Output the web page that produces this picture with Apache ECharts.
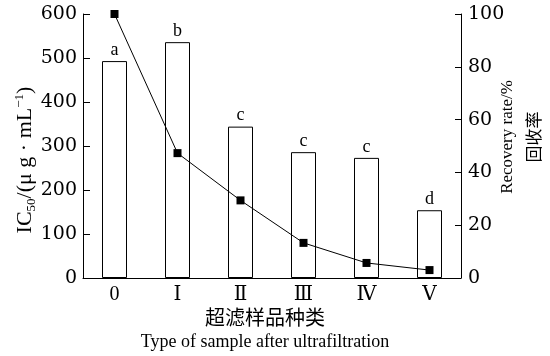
<!DOCTYPE html>
<html><head><meta charset="utf-8">
<script src="https://cdn.jsdelivr.net/npm/echarts@6/dist/echarts.min.js"></script>
<style>html,body{margin:0;padding:0;background:#fff}#c{width:550px;height:356px}</style>
</head><body><div id="c"></div>
<script>
const categories = ['0', 'Ⅰ', 'Ⅱ', 'Ⅲ', 'Ⅳ', 'Ⅴ'];
const ic50 = [493, 536, 344, 286, 273, 154];
const recovery = [100, 47.3, 29.4, 13.3, 5.7, 3.0];
const letters = ['a', 'b', 'c', 'c', 'c', 'd'];
const leftTicks = [0, 100, 200, 300, 400, 500, 600];
const rightTicks = [0, 20, 40, 60, 80, 100];

const serif = '"Liberation Serif", "DejaVu Serif", serif';
const numFont = '"DejaVu Serif", "Liberation Serif", serif';
const chart = echarts.init(document.getElementById('c'), null, {renderer: 'canvas'});
chart.setOption({
  animation: false,
  backgroundColor: '#fff',
  grid: {left: 83, right: 89, top: 14, bottom: 78, containLabel: false},
  xAxis: {
    type: 'category', data: categories, boundaryGap: true,
    axisLine: {lineStyle: {color: '#000', width: 1}},
    axisTick: {inside: true, length: 4, lineStyle: {color: '#000'}},
    axisLabel: {color: '#000', fontFamily: serif, fontSize: 20, margin: 7}
  },
  yAxis: [{
    type: 'value', min: leftTicks[0], max: leftTicks[leftTicks.length - 1], interval: 100,
    axisLine: {show: true, lineStyle: {color: '#000', width: 1}},
    axisTick: {show: true, inside: true, length: 7, lineStyle: {color: '#000'}},
    axisLabel: {color: '#000', fontFamily: numFont, fontSize: 19, margin: 6},
    splitLine: {show: false}
  }, {
    type: 'value', min: rightTicks[0], max: rightTicks[rightTicks.length - 1], interval: 20,
    position: 'right',
    axisLine: {show: true, lineStyle: {color: '#000', width: 1}},
    axisTick: {show: true, inside: true, length: 6, lineStyle: {color: '#000'}},
    axisLabel: {color: '#000', fontFamily: numFont, fontSize: 19, margin: 7},
    splitLine: {show: false}
  }],
  series: [{
    type: 'bar', yAxisIndex: 0, data: ic50, barWidth: 25,
    itemStyle: {color: '#fff', borderColor: '#000', borderWidth: 1},
    label: {
      show: true, position: 'top', distance: 2, color: '#000',
      fontFamily: serif, fontSize: 18,
      formatter: p => letters[p.dataIndex]
    }
  }, {
    type: 'line', yAxisIndex: 1, data: recovery,
    symbol: 'rect', symbolSize: 8,
    lineStyle: {color: '#000', width: 1},
    itemStyle: {color: '#000'}
  }],
  graphic: [{
    type: 'text', x: 25, y: 160, rotation: Math.PI / 2,
    style: {
      text: '{n|IC}{s|50}{n|/(μ g · mL}{p|−1}{n|)}',
      align: 'center', verticalAlign: 'middle',
      rich: {
        n: {fontFamily: serif, fontSize: 22, fill: '#000', verticalAlign: 'middle'},
        s: {fontFamily: serif, fontSize: 13, fill: '#000', padding: [13, 0, 0, 0]},
        p: {fontFamily: serif, fontSize: 13, fill: '#000', padding: [0, 0, 11, 0]}
      }
    }
  }, {
    type: 'text', x: 522, y: 137, rotation: Math.PI / 2,
    style: {
      text: 'Recovery rate/%\n回收率',
      align: 'center', verticalAlign: 'middle', lineHeight: 28,
      fontFamily: serif + ', "Noto Sans CJK SC"', fontSize: 17, fill: '#000'
    }
  }, {
    type: 'text', x: 265, y: 317,
    style: {
      text: '超滤样品种类', align: 'center', verticalAlign: 'middle',
      fontFamily: '"Noto Sans CJK SC"', fontSize: 20, fill: '#000'
    }
  }, {
    type: 'text', x: 265, y: 342,
    style: {
      text: 'Type of sample after ultrafiltration', align: 'center', verticalAlign: 'middle',
      fontFamily: serif, fontSize: 18, fill: '#000'
    }
  }]
});
</script></body></html>
